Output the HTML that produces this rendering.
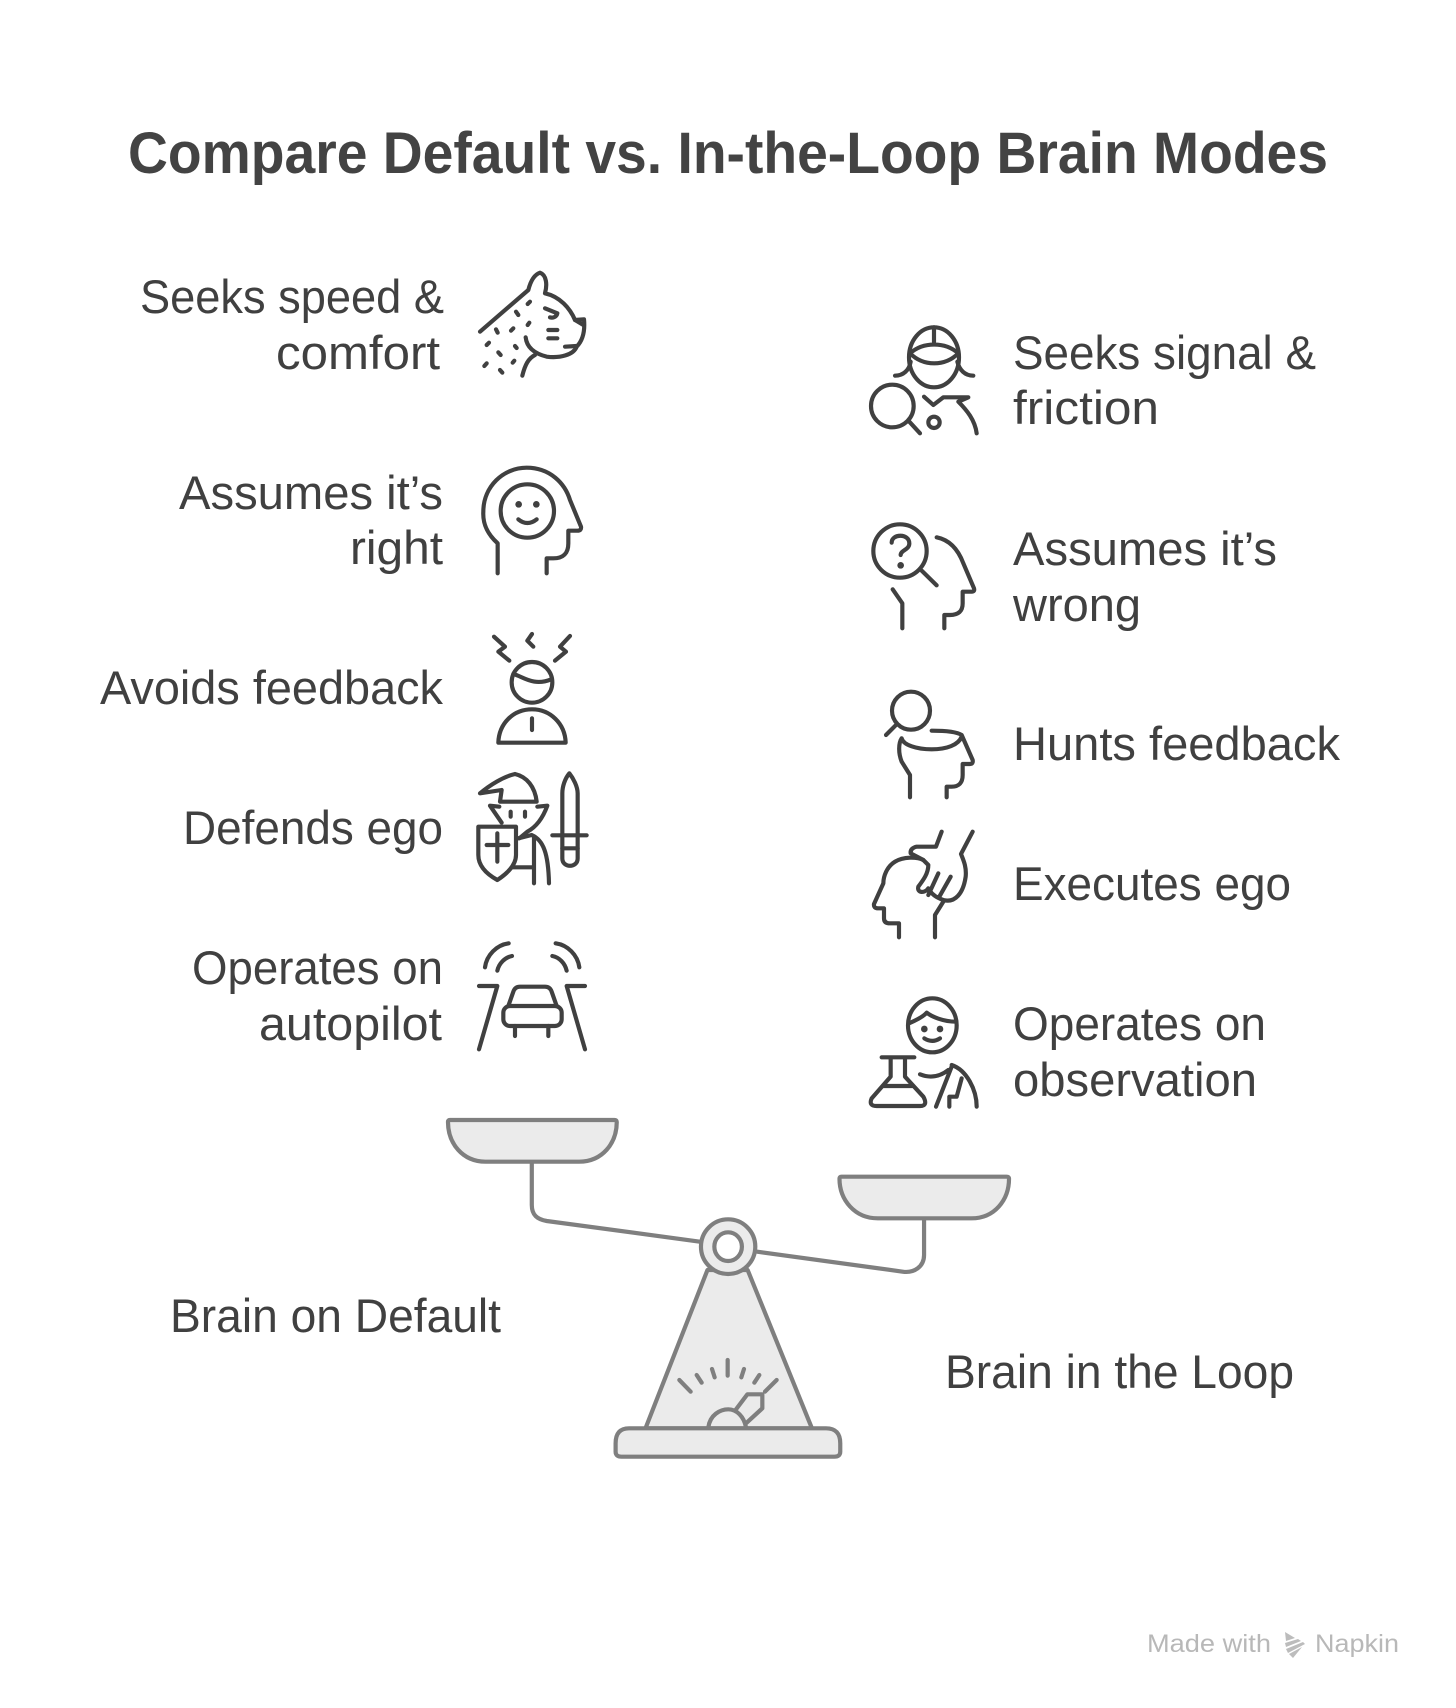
<!DOCTYPE html>
<html lang="en">
<head>
<meta charset="utf-8">
<title>Compare Default vs. In-the-Loop Brain Modes</title>
<style>
html,body{margin:0;padding:0;background:#fff;width:1456px;height:1708px;overflow:hidden}
svg{display:block}
text{font-family:"Liberation Sans",sans-serif;fill:#404040;font-size:47.5px}
.t{font-weight:700;font-size:58px;fill:#434343}
.w{font-size:25px;fill:#b8b8b8}
.i{fill:none;stroke:#404040;stroke-width:12.5;stroke-linecap:round;stroke-linejoin:round}
.d{fill:#404040;stroke:none}
.s{stroke:#7f7f7f;stroke-linecap:round;stroke-linejoin:round;fill:#ebebeb}
.s *{vector-effect:non-scaling-stroke;stroke-width:4.2px}
.n{fill:none}
</style>
</head>
<body>
<svg width="1456" height="1708" viewBox="0 0 1456 1708" xmlns="http://www.w3.org/2000/svg">
<rect width="1456" height="1708" fill="#fff"/>

<text class="t" x="128" y="173" textLength="1200" lengthAdjust="spacingAndGlyphs">Compare Default vs. In-the-Loop Brain Modes</text>

<!-- left labels -->
<text x="140" y="313" textLength="304" lengthAdjust="spacingAndGlyphs">Seeks speed &amp;</text>
<text x="276" y="369" textLength="164" lengthAdjust="spacingAndGlyphs">comfort</text>
<text x="179" y="509" textLength="264" lengthAdjust="spacingAndGlyphs">Assumes it’s</text>
<text x="350" y="564" textLength="93" lengthAdjust="spacingAndGlyphs">right</text>
<text x="100" y="704" textLength="343" lengthAdjust="spacingAndGlyphs">Avoids feedback</text>
<text x="183" y="844" textLength="260" lengthAdjust="spacingAndGlyphs">Defends ego</text>
<text x="192" y="984" textLength="251" lengthAdjust="spacingAndGlyphs">Operates on</text>
<text x="259" y="1040" textLength="183" lengthAdjust="spacingAndGlyphs">autopilot</text>

<!-- right labels -->
<text x="1013" y="369" textLength="303" lengthAdjust="spacingAndGlyphs">Seeks signal &amp;</text>
<text x="1013" y="424" textLength="146" lengthAdjust="spacingAndGlyphs">friction</text>
<text x="1013" y="565" textLength="264" lengthAdjust="spacingAndGlyphs">Assumes it’s</text>
<text x="1013" y="621" textLength="128" lengthAdjust="spacingAndGlyphs">wrong</text>
<text x="1013" y="760" textLength="327" lengthAdjust="spacingAndGlyphs">Hunts feedback</text>
<text x="1013" y="900" textLength="278" lengthAdjust="spacingAndGlyphs">Executes ego</text>
<text x="1013" y="1040" textLength="253" lengthAdjust="spacingAndGlyphs">Operates on</text>
<text x="1013" y="1096" textLength="244" lengthAdjust="spacingAndGlyphs">observation</text>

<text x="170" y="1332" textLength="331" lengthAdjust="spacingAndGlyphs">Brain on Default</text>
<text x="945" y="1388" textLength="349" lengthAdjust="spacingAndGlyphs">Brain in the Loop</text>

<!-- left icons -->
<g class="i" transform="translate(100,240) scale(.33333)">
  <path d="M1140,275 L1285,150 C1290,130 1300,105 1320,98 C1340,105 1342,135 1335,160 C1380,170 1410,205 1425,240 L1452,238 C1455,270 1450,300 1430,320 C1420,345 1380,355 1340,350 C1300,340 1280,320 1277,292"/>
  <path d="M1395,320 L1430,318 M1425,240 L1450,255 M1305,345 C1285,355 1275,375 1267,407 M1335,205 L1372,220 C1370,230 1360,235 1350,232 M1345,270 H1372 M1345,295 H1372"/>
  <path d="M1283,192 L1290,185 M1248,215 L1255,225 M1283,255 L1288,248 M1188,268 L1193,278 M1233,272 L1240,265 M1160,315 L1167,308 M1245,318 L1250,324 M1195,337 L1202,345 M1238,368 L1243,362 M1153,378 L1160,370 M1200,390 L1207,398"/>

  <path d="M1193,1000 V910 C1160,880 1148,850 1150,815 C1150,740 1210,683 1280,683 C1350,683 1395,730 1410,780 L1443,860 Q1445,872 1432,872 H1405 V910 Q1405,955 1360,955 H1340 V1000"/>
  <circle cx="1282" cy="813" r="80"/>
  <circle class="d" cx="1256" cy="793" r="10"/>
  <circle class="d" cx="1309" cy="793" r="10"/>
  <path d="M1255,838 Q1282,860 1310,838"/>
</g>
<g class="i" transform="translate(100,630) scale(.33333)">
  <circle cx="1296" cy="157" r="61"/>
  <path d="M1240,132 C1270,140 1300,170 1354,148"/>
  <path d="M1195,338 H1397 C1395,280 1350,238 1296,238 C1240,238 1197,280 1195,338 Z"/>
  <path d="M1296,265 V300 M1182,20 L1215,50 L1195,65 L1228,92 M1296,12 L1282,32 L1300,50 M1410,18 L1380,50 L1398,65 L1365,92"/>

  <path d="M1140,490 C1170,465 1210,440 1245,432 C1280,440 1305,470 1310,515 H1200 L1205,480 L1140,490"/>
  <path d="M1170,527 L1198,530 M1170,527 L1205,578 M1342,527 L1312,530 M1342,527 C1330,560 1310,590 1282,605 L1258,625 M1232,545 V560 M1275,545 V560"/>
  <path d="M1135,590 H1248 V675 C1248,710 1215,735 1192,750 C1165,735 1135,710 1135,675 Z"/>
  <path d="M1192,610 V695 M1160,645 H1225"/>
  <path d="M1255,625 L1295,615 C1330,630 1345,670 1347,760 M1302,620 V760 M1240,712 H1302"/>
  <path d="M1408,430 C1395,445 1387,470 1387,490 V685 C1387,715 1433,715 1433,685 V490 C1433,470 1420,445 1408,430 Z"/>
  <path d="M1357,616 H1460 M1387,655 H1433"/>

  <path d="M1155,1012 C1160,975 1190,945 1226,940 M1192,1022 C1197,1000 1215,982 1236,978 M1438,1012 C1433,975 1403,945 1367,940 M1400,1022 C1395,1000 1378,982 1357,978"/>
  <path d="M1137,1068 H1192 L1137,1258 M1455,1068 H1400 L1455,1258"/>
  <path d="M1225,1128 L1240,1085 Q1245,1070 1260,1070 H1335 Q1350,1070 1355,1085 L1370,1128"/>
  <rect x="1210" y="1128" width="175" height="60" rx="20"/>
  <path d="M1245,1188 V1218 M1345,1188 V1218"/>
</g>

<!-- right icons -->
<g class="i" transform="translate(860,310) scale(.33333)">
  <ellipse cx="222" cy="142" rx="75" ry="90"/>
  <path d="M150,130 C190,95 255,95 295,130 C255,170 190,170 150,130 M222,52 V100 M105,197 C130,197 148,180 152,155 M340,197 C315,197 298,180 292,155"/>
  <circle cx="97" cy="288" r="64"/>
  <path d="M148,335 L180,370 M192,260 L220,285 L250,262 H325 L295,275 C320,300 345,330 350,370"/>
  <circle cx="222" cy="337" r="17"/>

  <circle cx="120" cy="723" r="80"/>
  <path d="M185,782 L230,826 M95,698 C95,670 148,670 148,700 C148,720 122,720 122,735"/>
  <circle class="d" cx="122" cy="766" r="10"/>
  <path d="M230,682 C270,690 295,720 310,760 L342,835 Q345,845 335,845 H308 V880 Q308,915 270,915 H253 V955 M98,838 L127,880 V955"/>
</g>
<g class="i" transform="translate(860,680) scale(.33333)">
  <circle cx="153" cy="92" r="57"/>
  <path d="M110,133 L78,165 M215,152 C255,152 290,155 305,165 L338,240 Q340,252 330,252 H308 V285 Q308,320 275,320 H260 V352 M125,175 C130,195 170,208 215,208 C260,208 295,195 305,170 M125,175 C115,190 115,220 125,245 L150,285 V352"/>

  <path d="M190,540 C170,530 130,530 105,545 C80,560 70,590 70,610 L42,672 Q40,685 55,685 H72 V715 Q72,730 90,730 H117 V772 M225,772 V705 L250,665"/>
  <path d="M245,455 L228,500 H170 Q150,505 152,520 L190,540 L205,555 C205,580 190,600 175,620 C170,640 195,640 205,625 M205,645 L235,580 M238,650 L272,590 M205,625 C215,645 235,655 250,660 C285,670 310,640 317,590 C320,560 310,540 303,522 L338,455"/>

  <ellipse cx="217" cy="1036" rx="73" ry="81"/>
  <path d="M147,1030 C170,1020 190,1010 200,998 C215,1010 250,1025 288,1025 M193,1075 Q217,1090 240,1075"/>
  <circle class="d" cx="193" cy="1047" r="10"/>
  <circle class="d" cx="240" cy="1047" r="10"/>
  <path d="M65,1132 H163 M92,1132 V1190 L35,1255 Q25,1278 50,1278 H180 Q205,1278 190,1250 L135,1190 V1132 M70,1218 H160"/>
  <path d="M180,1183 C210,1195 240,1190 265,1170 M275,1155 C320,1170 350,1230 350,1280 M275,1160 L228,1280 M268,1280 V1250 H290 L305,1195"/>
</g>

<!-- balance scale -->
<g class="s" transform="translate(430,1110) scale(.38270,.33333)">
  <path class="n" d="M266,155 V285 C266,315 280,328 305,333 L705,395"/>
  <path class="n" d="M1291,325 V435 C1291,470 1265,490 1235,485 L855,425"/>
  <path d="M52,30 H482 Q488,30 488,36 C488,100 450,155 390,155 H145 C85,155 47,100 47,36 Q47,30 52,30 Z"/>
  <path d="M1075,200 H1507 Q1513,200 1513,206 C1513,270 1475,325 1415,325 H1170 C1110,325 1070,270 1070,206 Q1070,200 1075,200 Z"/>
  <path d="M725,480 L563,955 H998 L830,480 Z"/>
  <path d="M520,955 H1035 Q1072,955 1072,1000 V1025 Q1072,1040 1057,1040 H500 Q485,1040 485,1025 V1000 Q485,955 520,955 Z"/>
  <ellipse cx="779" cy="410" rx="71" ry="82"/>
  <ellipse cx="779" cy="410" rx="36" ry="43" fill="#fff"/>
</g>
<g class="s" transform="translate(560,1340) scale(.33333)">
  <path class="n" d="M358,120 L392,155 M410,105 L425,128 M456,87 L464,112 M503,60 V107 M552,87 L544,112 M598,105 L583,128 M650,120 L615,155"/>
  <path class="n" d="M445,262 C450,225 480,208 505,208 C530,208 552,230 558,262 M528,208 L562,163 H607 V205 L558,250"/>
</g>

<!-- watermark -->
<text class="w" x="1147" y="1652" textLength="124" lengthAdjust="spacingAndGlyphs">Made with</text>
<text class="w" x="1315" y="1652" textLength="84" lengthAdjust="spacingAndGlyphs">Napkin</text>
<g fill="#bcbcbc">
  <polygon points="1285,1632 1295,1638 1286,1641"/>
  <polygon points="1285,1643 1298,1639 1301,1641 1286,1647"/>
  <polygon points="1286,1649 1303,1642 1305,1644 1288,1653"/>
  <polygon points="1289,1654 1302,1647 1293,1658"/>
</g>
</svg>
</body>
</html>
